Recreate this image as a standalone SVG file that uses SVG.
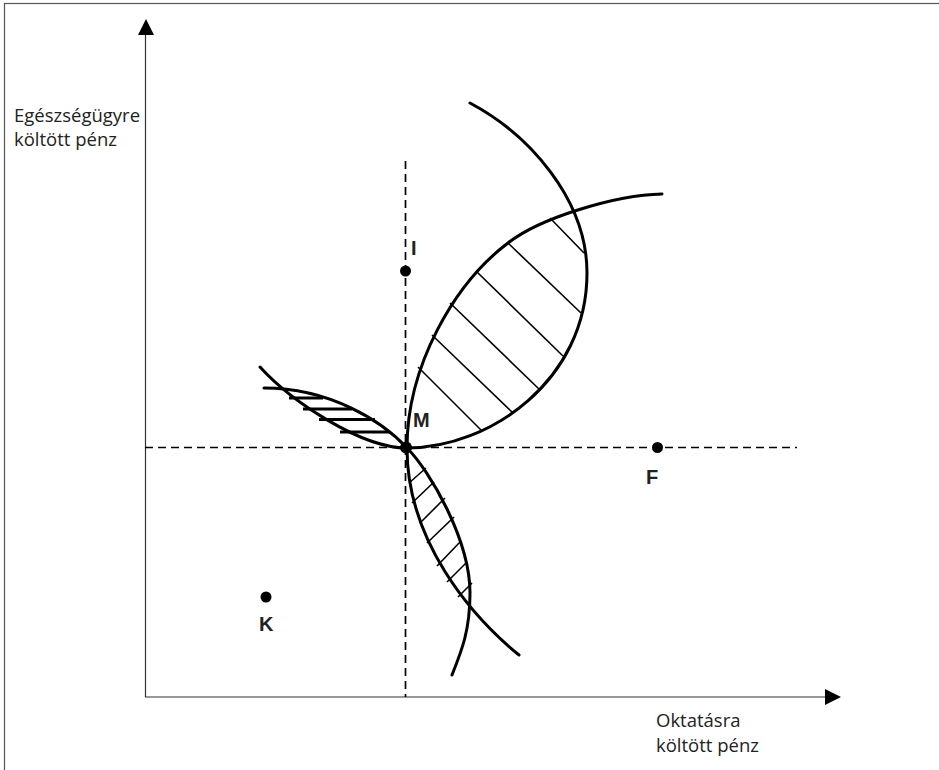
<svg xmlns="http://www.w3.org/2000/svg" width="939" height="770" viewBox="0 0 939 770">
<style>
  .axis{stroke:#333;stroke-width:1.2;fill:none}
  .dash{stroke:#000;stroke-width:1.7;stroke-dasharray:8 5;fill:none}
  .curve{stroke:#000;stroke-width:3;fill:none;stroke-linecap:round}
  .hatch{stroke:#000;stroke-width:1.6;fill:none}
  .hatchB{stroke:#000;stroke-width:2.8;fill:none}
  .lbl{font-family:"Open Sans","Liberation Sans",Arial,sans-serif;font-size:18.5px;fill:#222}
  .pt{font-family:"Liberation Sans",Arial,sans-serif;font-size:20px;font-weight:bold;fill:#222}
</style>
<rect x="4.5" y="3.5" width="950" height="790" fill="#fff" stroke="#555" stroke-width="1.2"/>
<g id="axes">
  <line class="axis" x1="145.5" y1="697" x2="145.5" y2="34"/>
  <polygon points="146,19 138,35 154,35" fill="#000"/>
  <line class="axis" x1="145" y1="697" x2="826" y2="697"/>
  <polygon points="841,697 825,689 825,705" fill="#000"/>
</g>
<g id="connectors">
  <line class="dash" x1="405.5" y1="161" x2="405.5" y2="697"/>
  <line class="dash" x1="145" y1="447.5" x2="797" y2="447.5"/>
  <path id="curve1" class="curve" d="M470,103 C530,135 587,200 587,273 C587,380 490,448 407,448 C360,448 290,400 260,367"/>
  <path id="curve2" class="curve" d="M662,194 C615,195 540,218 508,243 C455,283 407,365 407,448 C407,540 470,615 519,655"/>
  <path id="curve3" class="curve" d="M264,388 C330,388 382,421 407,448 C430,471 470,540 470,593 C470,630 462,650 452,675"/>
  <g id="hatch-upper">
    <line class="hatch" x1="550" y1="218" x2="584" y2="253"/>
    <line class="hatch" x1="508" y1="243" x2="581" y2="313"/>
    <line class="hatch" x1="477" y1="272" x2="563" y2="356"/>
    <line class="hatch" x1="450" y1="303" x2="539" y2="389"/>
    <line class="hatch" x1="432" y1="335" x2="513" y2="413"/>
    <line class="hatch" x1="418" y1="367" x2="482" y2="431"/>
  </g>
  <g id="hatch-lower">
    <line class="hatch" x1="409" y1="483" x2="426" y2="468"/>
    <line class="hatch" x1="412" y1="503" x2="434" y2="482"/>
    <line class="hatch" x1="420" y1="523" x2="445" y2="498"/>
    <line class="hatch" x1="427" y1="543" x2="454" y2="517"/>
    <line class="hatch" x1="437" y1="566" x2="461" y2="541"/>
    <line class="hatch" x1="447" y1="582" x2="467" y2="562"/>
    <line class="hatch" x1="458" y1="597" x2="472" y2="583"/>
  </g>
  <g id="hatch-left">
    <line class="hatchB" x1="289" y1="398" x2="323" y2="398"/>
    <line class="hatchB" x1="303" y1="409" x2="352" y2="409"/>
    <line class="hatchB" x1="319" y1="419.5" x2="375" y2="419.5"/>
    <line class="hatchB" x1="340" y1="432" x2="390" y2="432"/>
  </g>
</g>
<g id="node-I"><circle cx="405.5" cy="271" r="5.5"/><text class="pt" x="411" y="255">I</text></g>
<g id="node-M"><circle cx="406" cy="447.5" r="6"/><text class="pt" x="413" y="427">M</text></g>
<g id="node-F"><circle cx="657.5" cy="447.5" r="5.5"/><text class="pt" x="646" y="484">F</text></g>
<g id="node-K"><circle cx="266" cy="597" r="5.5"/><text class="pt" x="259" y="631">K</text></g>
<g id="label-y">
  <text class="lbl" x="14" y="122">Egészségügyre</text>
  <text class="lbl" x="14" y="146">költött pénz</text>
</g>
<g id="label-x">
  <text class="lbl" x="656" y="727">Oktatásra</text>
  <text class="lbl" x="656" y="752">költött pénz</text>
</g>
</svg>
